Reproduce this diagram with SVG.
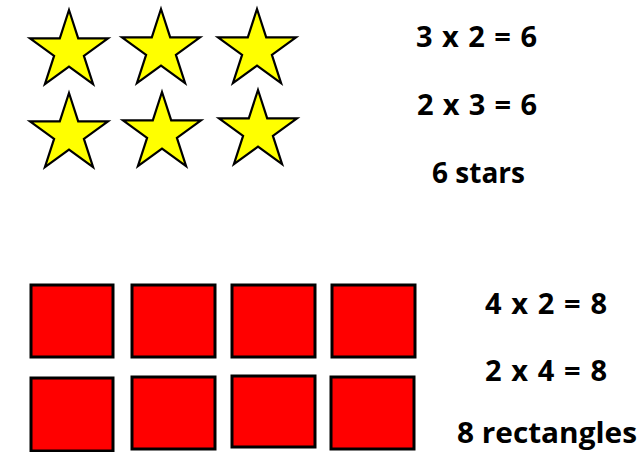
<svg xmlns="http://www.w3.org/2000/svg" xmlns:xlink="http://www.w3.org/1999/xlink" width="639" height="452" viewBox="0 0 639 452">
<style>
.star{fill:#ffff00;stroke:#000;stroke-width:2.2;stroke-linejoin:miter}
.sq{fill:#ff0000;stroke:#000;stroke-width:3}
.t{font-family:"Open Sans","DejaVu Sans",sans-serif;font-weight:bold;font-size:29px;fill:#000}
</style>
<defs>
<path id="starShape" class="star" d="M0,-41 L9.2,-12.7 L39,-12.7 L14.9,4.8 L24.1,33.2 L0,15.7 L-24.1,33.2 L-14.9,4.8 L-39,-12.7 L-9.2,-12.7 Z"/>
</defs>
<rect width="639" height="452" fill="#fff"/>
<g id="star1"><use xlink:href="#starShape" href="#starShape" transform="translate(69,51)"/></g>
<g id="star2"><use xlink:href="#starShape" href="#starShape" transform="translate(161,50)"/></g>
<g id="star3"><use xlink:href="#starShape" href="#starShape" transform="translate(257,50)"/></g>
<g id="star4"><use xlink:href="#starShape" href="#starShape" transform="translate(69,134)"/></g>
<g id="star5"><use xlink:href="#starShape" href="#starShape" transform="translate(162,133)"/></g>
<g id="star6"><use xlink:href="#starShape" href="#starShape" transform="translate(258,131)"/></g>
<g id="rect1"><rect class="sq" x="31" y="285" width="82" height="72"/></g>
<g id="rect2"><rect class="sq" x="132" y="285" width="83" height="72"/></g>
<g id="rect3"><rect class="sq" x="232" y="285" width="83" height="72"/></g>
<g id="rect4"><rect class="sq" x="332" y="285" width="83" height="72"/></g>
<g id="rect5"><rect class="sq" x="31" y="378" width="82" height="73"/></g>
<g id="rect6"><rect class="sq" x="132" y="377" width="83" height="72"/></g>
<g id="rect7"><rect class="sq" x="232" y="376" width="83" height="71"/></g>
<g id="rect8"><rect class="sq" x="331" y="377" width="83" height="72"/></g>
<g id="labels">
<text class="t" x="416" y="47" textLength="121" lengthAdjust="spacing">3 x 2 = 6</text>
<text class="t" x="417" y="115" textLength="120" lengthAdjust="spacing">2 x 3 = 6</text>
<text class="t" x="432" y="183" textLength="93" lengthAdjust="spacingAndGlyphs">6 stars</text>
<text class="t" x="485" y="314" textLength="122" lengthAdjust="spacing">4 x 2 = 8</text>
<text class="t" x="485" y="381" textLength="122" lengthAdjust="spacing">2 x 4 = 8</text>
<text class="t" x="457" y="443" font-size="28" textLength="180" lengthAdjust="spacingAndGlyphs">8 rectangles</text>
</g>
</svg>
